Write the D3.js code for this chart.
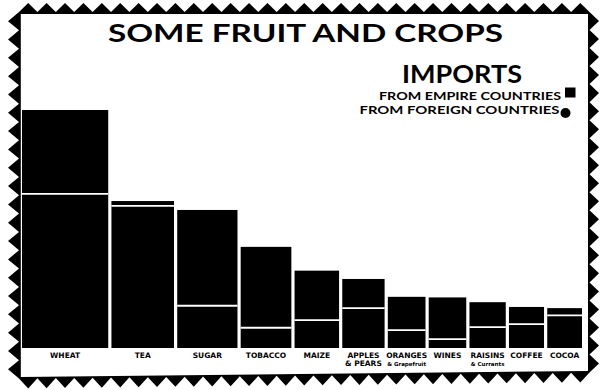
<!DOCTYPE html>
<html>
<head>
<meta charset="utf-8">
<script src="https://cdn.jsdelivr.net/npm/d3@7/dist/d3.min.js"></script>
<style>
  html, body { margin: 0; padding: 0; background: #fff; }
  svg { display: block; }
</style>
</head>
<body>
<svg id="chart" width="604" height="390"></svg>
<script>
// Imports of some fruit and crops, split by source (arbitrary value units)
const categories = ["WHEAT", "TEA", "SUGAR", "TOBACCO", "MAIZE", "APPLES", "ORANGES", "WINES", "RAISINS", "COFFEE", "COCOA"];
const subLabels  = ["", "", "", "", "", "& PEARS", "& Grapefruit", "", "& Currants", "", ""];
const empire     = [25.9, 23.9, 7.1, 3.4, 4.7, 6.7, 3.0, 1.5, 3.5, 4.0, 5.5];
const foreign    = [14.1, 0.8, 16.1, 13.6, 8.3, 4.9, 5.6, 7.0, 4.2, 2.9, 1.2];
const legendLabels = ["FROM EMPIRE COUNTRIES", "FROM FOREIGN COUNTRIES"];

const svg = d3.select("#chart");
const ink = "#000";

// ---- stamp-style frame -------------------------------------------------
function edge(a, b, n, amp, nx, ny) {
  const pts = [];
  for (let i = 0; i < n; i++) {
    const t0 = i / n, tm = (i + 0.5) / n;
    pts.push([a[0] + (b[0] - a[0]) * t0, a[1] + (b[1] - a[1]) * t0]);
    pts.push([a[0] + (b[0] - a[0]) * tm + nx * amp, a[1] + (b[1] - a[1]) * tm + ny * amp]);
  }
  return pts;
}
const oTL = [19, 12], oTR = [589.5, 12], oBR = [589.5, 372.5], oBL = [19, 378.5];
let outline = [];
outline.push([10, 3]);
outline = outline.concat(edge(oTL, oTR, 31, 9, 0, -1));
outline.push(oTR, [599, 3]);
outline = outline.concat(edge(oTR, oBR, 20, 9.5, 1, 0));
outline.push(oBR, [601, 390]);
outline = outline.concat(edge(oBR, oBL, 31, 10, 0, 1));
outline.push(oBL, [7, 390]);
outline = outline.concat(edge(oBL, oTL, 20, 11, -1, 0));
outline.push(oTL);

svg.append("path")
  .attr("d", d3.line()(outline) + "Z")
  .attr("fill", ink);
svg.append("path")
  .attr("d", d3.line()([[20.8, 14], [588, 14], [588, 371], [20.8, 377]]) + "Z")
  .attr("fill", "#fff");

// ---- scales ------------------------------------------------------------
const totals = categories.map((c, i) => empire[i] + foreign[i]);
const baseY = 348;
const y = d3.scaleLinear().domain([0, 40]).range([baseY, 110]);

// bar width grows with the total imported
const widthScale = d3.scaleLinear().domain([0, 40]).range([24.4, 86.2]);
const gap = 3.2;
const widths = totals.map(t => widthScale(t));
const starts = [];
let acc = 0;
widths.forEach((w, i) => { starts.push(acc); acc += w + (i < widths.length - 1 ? gap : 0); });
const x = d3.scaleLinear().domain([0, acc]).range([22, 582]);

const bars = categories.map((c, i) => ({
  name: c, sub: subLabels[i], empire: empire[i], foreign: foreign[i],
  x0: x(starts[i]), x1: x(starts[i] + widths[i])
}));

// ---- bars --------------------------------------------------------------
const g = svg.append("g");
g.selectAll("rect.empire").data(bars).join("rect")
  .attr("class", "empire")
  .attr("x", d => d.x0).attr("width", d => d.x1 - d.x0)
  .attr("y", d => y(d.empire)).attr("height", d => baseY - y(d.empire))
  .attr("fill", ink);
g.selectAll("rect.foreign").data(bars).join("rect")
  .attr("class", "foreign")
  .attr("x", d => d.x0).attr("width", d => d.x1 - d.x0)
  .attr("y", d => y(d.empire + d.foreign)).attr("height", d => y(d.empire) - y(d.empire + d.foreign))
  .attr("fill", ink);
g.selectAll("line.split").data(bars).join("line")
  .attr("class", "split")
  .attr("x1", d => d.x0).attr("x2", d => d.x1)
  .attr("y1", d => y(d.empire)).attr("y2", d => y(d.empire))
  .attr("stroke", "#fff").attr("stroke-width", 1.8);

// ---- category labels -----------------------------------------------------
g.selectAll("text.cat").data(bars).join("text")
  .attr("class", "cat")
  .attr("x", d => (d.x0 + d.x1) / 2).attr("y", 358)
  .attr("text-anchor", "middle")
  .attr("font-family", "DejaVu Sans, sans-serif").attr("font-weight", "bold")
  .attr("font-size", 7.5).attr("fill", ink)
  .text(d => d.name);
g.selectAll("text.sub").data(bars.filter(d => d.sub)).join("text")
  .attr("class", "sub")
  .attr("x", d => (d.x0 + d.x1) / 2).attr("y", 366)
  .attr("text-anchor", "middle")
  .attr("font-family", "DejaVu Sans, sans-serif").attr("font-weight", "bold")
  .attr("font-size", d => /[a-z]/.test(d.sub) ? 5.5 : 7.5).attr("fill", ink)
  .text(d => d.sub);

// ---- title and legend -----------------------------------------------------
svg.append("text")
  .attr("x", 108).attr("y", 42)
  .attr("textLength", 395).attr("lengthAdjust", "spacingAndGlyphs")
  .attr("font-family", "Lato, sans-serif").attr("font-weight", "bold")
  .attr("font-size", 24).attr("fill", ink)
  .text("SOME FRUIT AND  CROPS");
svg.append("text")
  .attr("x", 402).attr("y", 83)
  .attr("textLength", 120).attr("lengthAdjust", "spacingAndGlyphs")
  .attr("font-family", "Lato, sans-serif").attr("font-weight", "bold")
  .attr("font-size", 25).attr("fill", ink)
  .text("IMPORTS");

const legend = svg.append("g");
legend.append("text")
  .attr("x", 379).attr("y", 100)
  .attr("textLength", 182).attr("lengthAdjust", "spacingAndGlyphs")
  .attr("font-family", "Lato, sans-serif").attr("font-weight", "bold")
  .attr("font-size", 12).attr("fill", ink)
  .text(legendLabels[0]);
legend.append("rect")
  .attr("x", 565).attr("y", 87.5).attr("width", 10.5).attr("height", 10)
  .attr("fill", ink);
legend.append("text")
  .attr("x", 359.5).attr("y", 114)
  .attr("textLength", 200).attr("lengthAdjust", "spacingAndGlyphs")
  .attr("font-family", "Lato, sans-serif").attr("font-weight", "bold")
  .attr("font-size", 12).attr("fill", ink)
  .text(legendLabels[1]);
legend.append("circle")
  .attr("cx", 565.5).attr("cy", 113).attr("r", 5)
  .attr("fill", ink);
</script>
</body>
</html>
